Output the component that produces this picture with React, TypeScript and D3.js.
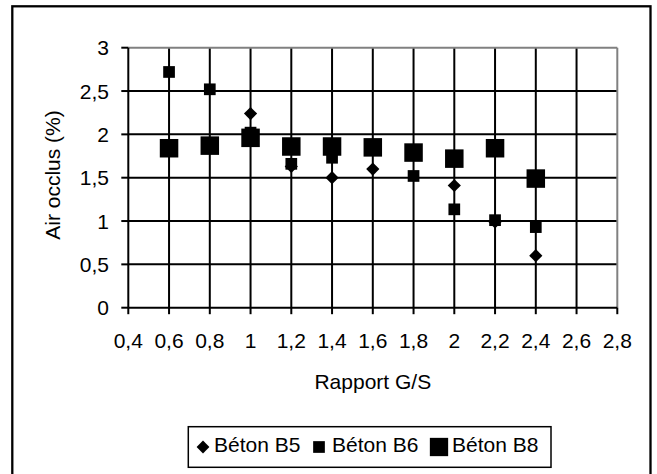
import React from "react";
import * as d3 from "d3";

const xTicks = [0.4, 0.6, 0.8, 1.0, 1.2, 1.4, 1.6, 1.8, 2.0, 2.2, 2.4, 2.6, 2.8];
const yTicks = [0, 0.5, 1, 1.5, 2, 2.5, 3];

const b5X = [1.0, 1.2, 1.4, 1.6, 2.0, 2.2, 2.4];
const b5Y = [2.24, 1.63, 1.5, 1.6, 1.41, 0.99, 0.6];

const b6X = [0.6, 0.8, 1.0, 1.2, 1.4, 1.8, 2.0, 2.2, 2.4];
const b6Y = [2.72, 2.52, 2.02, 1.66, 1.73, 1.52, 1.135, 1.01, 0.93];

const b8X = [0.6, 0.8, 1.0, 1.2, 1.4, 1.6, 1.8, 2.0, 2.2, 2.4];
const b8Y = [1.84, 1.87, 1.96, 1.86, 1.86, 1.85, 1.79, 1.72, 1.84, 1.49];

const seriesNames = ["Béton B5", "Béton B6", "Béton B8"];

const W = 657;
const H = 474;
const FONT = "'Liberation Sans', Arial, sans-serif";
const FS = 21;

const fmt = (v: number) => String(+v.toFixed(1)).replace(".", ",");

export default function App() {
  const x = d3.scaleLinear().domain([0.4, 2.8]).range([128.3, 617.3]);
  const y = d3.scaleLinear().domain([0, 3]).range([307.7, 47.7]);
  const [x0, x1] = x.range();
  const [y0, y1] = y.range();

  const diamond = (cx: number, cy: number, r: number) =>
    `M${cx},${cy - r}L${cx + r},${cy}L${cx},${cy + r}L${cx - r},${cy}Z`;
  const square = (cx: number, cy: number, s: number) => (
    <rect x={cx - s / 2} y={cy - s / 2} width={s} height={s} fill="#000" />
  );

  const legendY = 447;
  const legendItems = [
    { mx: 203, tx: 214, kind: "d" },
    { mx: 319, tx: 332, kind: "s" },
    { mx: 439, tx: 452, kind: "S" },
  ];

  return (
    <svg
      width={W}
      height={H}
      style={{ position: "absolute", left: 0, top: 0, background: "#fff" }}
      fontFamily={FONT}
    >
      <rect x={0} y={0} width={W} height={H} fill="#fff" />
      <rect x={12.3} y={6.3} width={638.2} height={480} fill="#fff" stroke="#000" strokeWidth={2.3} />

      {/* gridlines */}
      {yTicks.filter((t) => t > 0 && t < 3).map((t) => (
        <line key={"gy" + t} x1={x0} x2={x1} y1={y(t)} y2={y(t)} stroke="#000" strokeWidth={2} />
      ))}
      {xTicks.filter((t) => t > 0.41 && t < 2.79).map((t) => (
        <line key={"gx" + t} x1={x(t)} x2={x(t)} y1={y0} y2={y1} stroke="#000" strokeWidth={2} />
      ))}
      {/* plot border top/right gray */}
      <line x1={x0} x2={x1} y1={y1} y2={y1} stroke="#808080" strokeWidth={2} />
      <line x1={x1} x2={x1} y1={y1} y2={y0} stroke="#808080" strokeWidth={2} />

      {/* axes */}
      <line x1={x0} x2={x0} y1={y1} y2={y0} stroke="#000" strokeWidth={2} />
      <line x1={x0} x2={x1} y1={y0} y2={y0} stroke="#000" strokeWidth={2} />
      {yTicks.map((t) => (
        <g key={"yt" + t}>
          <line x1={x0 - 7} x2={x0} y1={y(t)} y2={y(t)} stroke="#000" strokeWidth={2} />
          <text x={109} y={y(t)} dy="0.36em" textAnchor="end" fontSize={FS}>
            {fmt(t)}
          </text>
        </g>
      ))}
      {xTicks.map((t) => (
        <g key={"xt" + t}>
          <line x1={x(t)} x2={x(t)} y1={y0} y2={y0 + 6.5} stroke="#000" strokeWidth={2} />
          <text x={x(t)} y={348} textAnchor="middle" fontSize={FS}>
            {fmt(t)}
          </text>
        </g>
      ))}

      <text x={(x0 + x1) / 2} y={388.5} textAnchor="middle" fontSize={FS}>
        Rapport G/S
      </text>
      <text
        transform={`translate(60,175) rotate(-90)`}
        textAnchor="middle"
        fontSize={FS}
      >
        Air occlus (%)
      </text>

      {/* series */}
      {b5X.map((v, i) => (
        <path key={"b5" + i} d={diamond(x(v), y(b5Y[i]), 6.6)} fill="#000" />
      ))}
      {b6X.map((v, i) => (
        <g key={"b6" + i}>{square(x(v), y(b6Y[i]), 11.7)}</g>
      ))}
      {b8X.map((v, i) => (
        <g key={"b8" + i}>{square(x(v), y(b8Y[i]), 18.5)}</g>
      ))}

      {/* legend */}
      <rect x={188.3} y={426.7} width={362.7} height={40.6} fill="#fff" stroke="#000" strokeWidth={1.5} />
      {legendItems.map((it, i) => (
        <g key={"lg" + i}>
          {it.kind === "d" ? (
            <path d={diamond(it.mx, legendY, 6.4)} fill="#000" />
          ) : it.kind === "s" ? (
            square(it.mx, legendY, 11.7)
          ) : (
            square(it.mx, legendY, 18.3)
          )}
          <text x={it.tx} y={legendY + 5} fontSize={FS}>
            {seriesNames[i]}
          </text>
        </g>
      ))}
    </svg>
  );
}
